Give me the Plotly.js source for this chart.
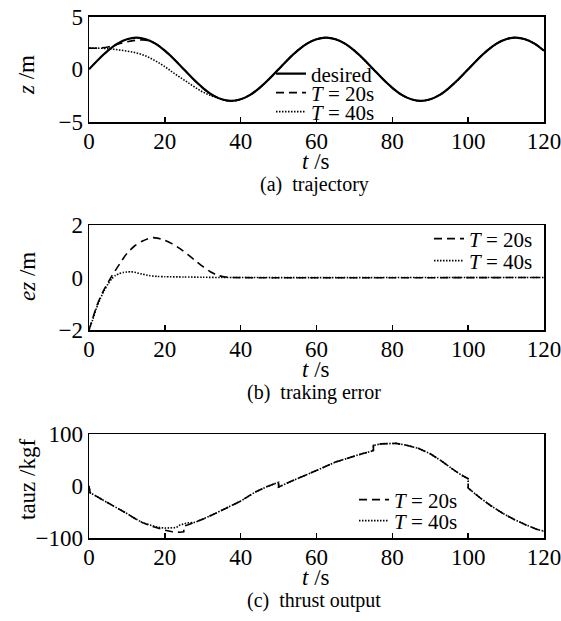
<!DOCTYPE html>
<html><head><meta charset="utf-8">
<script src="https://cdn.plot.ly/plotly-3.0.1.min.js"></script>
<style>html,body{margin:0;padding:0;background:#fff}</style>
</head><body><div id="chart" style="width:561px;height:621px"></div>
<script>
// ---- Panel (a) trajectory ----
const tA = [0,2.5,5,7.5,10,12.5,15,17.5,20,22.5,25,27.5,30,32.5,35,37.5,40,42.5,45,47.5,50,52.5,55,57.5,60,62.5,65,67.5,70,72.5,75,77.5,80,82.5,85,87.5,90,92.5,95,97.5,100,102.5,105,107.5,110,112.5,115,117.5,120];
const zDesired = [0,0.93,1.76,2.43,2.85,3,2.85,2.43,1.76,0.93,0,-0.93,-1.76,-2.43,-2.85,-3,-2.85,-2.43,-1.76,-0.93,0,
  0.93,1.76,2.43,2.85,3,2.85,2.43,1.76,0.93,0,-0.93,-1.76,-2.43,-2.85,-3,-2.85,-2.43,-1.76,-0.93,0,
  0.93,1.76,2.43,2.85,3,2.85,2.43,1.76];
const zT20 = [2.0,2.0,2.1,2.38,2.6,2.75,2.76,2.45,1.76,0.93,0,-0.93,-1.76,-2.43,-2.85,-3,-2.85,-2.43,-1.76,-0.93,0,
  0.93,1.76,2.43,2.85,3,2.85,2.43,1.76,0.93,0,-0.93,-1.76,-2.43,-2.85,-3,-2.85,-2.43,-1.76,-0.93,0,
  0.93,1.76,2.43,2.85,3,2.85,2.43,1.76];
const zT40 = [2.0,2.0,1.95,1.85,1.72,1.55,1.25,0.8,0.25,-0.4,-1.0,-1.6,-2.15,-2.55,-2.85,-3,-2.85,-2.43,-1.76,-0.93,0,
  0.93,1.76,2.43,2.85,3,2.85,2.43,1.76,0.93,0,-0.93,-1.76,-2.43,-2.85,-3,-2.85,-2.43,-1.76,-0.93,0,
  0.93,1.76,2.43,2.85,3,2.85,2.43,1.76];

// ---- Panel (b) tracking error ----
const tB20 = [0,1,2,3,4,5,6,8,10,12,14,16,17,18,20,22,24,26,28,30,32,34,36,38,120];
const eB20 = [-2,-1.55,-1.1,-0.75,-0.45,-0.2,0.05,0.5,0.92,1.2,1.38,1.5,1.52,1.5,1.42,1.28,1.1,0.88,0.65,0.42,0.22,0.08,0.02,0,0];
const tB40 = [0,1,2,3,4,5,6,7,8,9,10,11,12,14,16,18,20,25,30,35,120];
const eB40 = [-2,-1.6,-1.15,-0.8,-0.5,-0.25,-0.05,0.08,0.15,0.19,0.21,0.22,0.2,0.13,0.07,0.04,0.03,0.02,0.01,0,0];

// ---- Panel (c) thrust output ----
const tC20 = [0,0.3,2,5,8,10,12,14,16,18,20,22,24,25,25,26,28,30,33,36,40,44,47,50,50,53,57,61,65,69,72,75,75,77,79,81,84,87,90,93,96,98,100,100,103,106,109,112,115,118,120];
const c20 = [0,-13,-20,-32,-45,-53,-62,-70,-76,-81,-85,-88,-89,-88,-77,-75,-70,-64,-54,-43,-29,-11,-1,7,-2,8,20,33,46,56,62,68,78,81,82,82,78,72,62,48,32,22,14,-4,-22,-38,-52,-64,-74,-83,-87];
const tC40 = [0,0.3,2,5,8,10,12,14,16,18,20,22,23,24,26,28,30,33,36,40,44,47,50,50,53,57,61,65,69,72,75,75,77,79,81,84,87,90,93,96,98,100,100,103,106,109,112,115,118,120];
const c40 = [0,-13,-20,-32,-45,-53,-62,-70,-75,-79,-81,-81,-80,-75,-71,-70,-64,-54,-43,-29,-11,-1,7,-2,8,20,33,46,56,62,68,78,81,82,82,78,72,62,48,32,22,14,-4,-22,-38,-52,-64,-74,-83,-87];

const xTicks = [0,20,40,60,80,100,120];
const labDesired = 'desired';
const labT20 = '<i>T</i> = 20s';
const labT40 = '<i>T</i> = 40s';

const FONT = '"Liberation Serif", "Times New Roman", "DejaVu Serif", serif';
const W = 561, H = 621;
const px = v => v / W;
const py = v => 1 - v / H;

const solid = {color:'#000', width:2.2};
const dashed = {color:'#000', width:1.6, dash:'8px,5px'};
const dotted = {color:'#000', width:1.6, dash:'1.5px,1.5px'};

const traces = [
  {x:tA, y:zDesired, mode:'lines', line:Object.assign({shape:'spline'}, solid), name:labDesired, xaxis:'x', yaxis:'y', legend:'legend', showlegend:true},
  {x:tA, y:zT20, mode:'lines', line:Object.assign({shape:'spline'}, dashed), name:labT20, xaxis:'x', yaxis:'y', legend:'legend2', showlegend:true},
  {x:tA, y:zT40, mode:'lines', line:Object.assign({shape:'spline'}, dotted), name:labT40, xaxis:'x', yaxis:'y', legend:'legend3', showlegend:true},
  {x:tB20, y:eB20, mode:'lines', line:Object.assign({shape:'spline', smoothing:0.6}, dashed), name:labT20, xaxis:'x2', yaxis:'y2', legend:'legend4', showlegend:true},
  {x:tB40, y:eB40, mode:'lines', line:Object.assign({shape:'spline', smoothing:0.6}, dotted), name:labT40, xaxis:'x2', yaxis:'y2', legend:'legend5', showlegend:true},
  {x:tC20, y:c20, mode:'lines', line:dashed, name:labT20, xaxis:'x3', yaxis:'y3', legend:'legend6', showlegend:true},
  {x:tC40, y:c40, mode:'lines', line:dotted, name:labT40, xaxis:'x3', yaxis:'y3', legend:'legend7', showlegend:true}
];

const xdom = [px(89), px(544)];
const panels = [
  {top:16.5, bot:122, yr:[-5,5], yt:[-5,0,5], ytitle:'<i>z</i> /m', yty:75, cap:'(a)  trajectory'},
  {top:225, bot:330, yr:[-2,2], yt:[-2,0,2], ytitle:'<i>ez</i> /m', yty:277, cap:'(b)  traking error'},
  {top:434, bot:538, yr:[-100,100], yt:[-100,0,100], ytitle:'tauz /kgf', yty:480, cap:'(c)  thrust output'}
];

const layout = {
  width:W, height:H, margin:{l:0,r:0,t:0,b:0},
  paper_bgcolor:'#fff', plot_bgcolor:'#fff',
  font:{family:FONT, size:23, color:'#000'},
  showlegend:true,
  annotations:[]
};
panels.forEach((p,i) => {
  const n = i === 0 ? '' : String(i+1);
  layout['xaxis'+n] = {
    domain:xdom, anchor:'y'+n, range:[0,120], tickvals:xTicks,
    ticks:'inside', ticklen:5, tickwidth:1.5, tickcolor:'#000',
    showline:true, mirror:true, linecolor:'#000', linewidth:1.5,
    showgrid:false, zeroline:false, ticklabeloverflow:'allow', ticklabelstandoff:-2,
    tickfont:{family:FONT, size:23, color:'#000'}
  };
  layout['yaxis'+n] = {
    domain:[py(p.bot), py(p.top)], anchor:'x'+n, range:p.yr, tickvals:p.yt,
    ticks:'', showline:true, mirror:true, linecolor:'#000', linewidth:1.5,
    showgrid:false, zeroline:false, ticklabeloverflow:'allow',
    tickfont:{family:FONT, size:23, color:'#000'}
  };
  layout.annotations.push(
    {xref:'paper', yref:'paper', x:px(27), y:py(p.yty), text:p.ytitle, textangle:-90, showarrow:false, xanchor:'center', yanchor:'middle', font:{family:FONT, size:23}},
    {xref:'paper', yref:'paper', x:px(316), y:py(p.bot+39), text:'<i>t</i> /s', showarrow:false, xanchor:'center', yanchor:'middle', font:{family:FONT, size:23}},
    {xref:'paper', yref:'paper', x:px(314), y:py(p.bot+62), text:p.cap, showarrow:false, xanchor:'center', yanchor:'middle', font:{family:FONT, size:20}}
  );
});

const leg = (xText, yc) => ({x:px(xText-40), y:py(yc), xanchor:'left', yanchor:'middle', bgcolor:'rgba(0,0,0,0)', borderwidth:0, font:{family:FONT, size:21, color:'#000'}, tracegroupgap:0});
layout.legend  = leg(311, 74);
layout.legend2 = leg(311, 93);
layout.legend3 = leg(311, 112);
layout.legend4 = leg(469, 239);
layout.legend5 = leg(469, 261);
layout.legend6 = leg(394, 500);
layout.legend7 = leg(394, 521);

Plotly.newPlot('chart', traces, layout, {staticPlot:true, displayModeBar:false});
</script>
</body></html>
